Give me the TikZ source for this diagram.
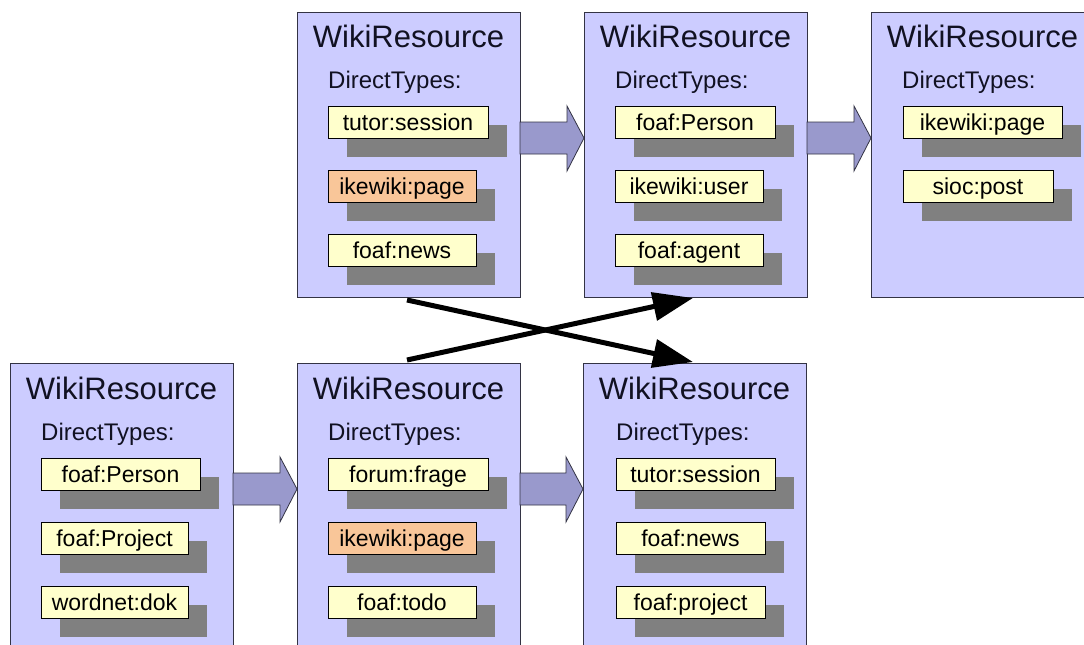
\documentclass[tikz,border=0pt]{standalone}
\usepackage{fontspec}
\setmainfont{Liberation Sans}
\usetikzlibrary{calc,arrows.meta,shadows}

\definecolor{boxfill}{HTML}{CCCCFF}
\definecolor{boxline}{HTML}{333344}
\definecolor{typefill}{HTML}{FFFFCC}
\definecolor{pagefill}{HTML}{F9C699}
\definecolor{shadowgray}{HTML}{808080}
\definecolor{flowfill}{HTML}{9999CC}
\definecolor{inktext}{HTML}{111122}

\tikzset{
  resource/.style={draw=boxline, line width=1pt, fill=boxfill, anchor=north west,
    minimum width=223pt, minimum height=#1, inner sep=0pt, outer sep=0pt},
  rtitle/.style={font=\fontsize{31}{31}\selectfont, text=inktext, inner sep=0pt, anchor=center},
  dtcaption/.style={font=\fontsize{24}{24}\selectfont, text=inktext, inner sep=0pt, anchor=west},
  typebox/.style={draw=black, line width=1pt, fill=typefill, anchor=north west,
    minimum height=32pt, minimum width=#1, inner sep=0pt, outer sep=0pt,
    text height=18pt, text depth=2pt,
    font=\fontsize{23}{23}\selectfont, text=black,
    general shadow={fill=shadowgray, shadow xshift=19pt, shadow yshift=-19pt}},
  pagebox/.style={typebox=#1, fill=pagefill},
  flow/.style={draw=boxline, line width=0.8pt, fill=flowfill, line join=miter},
  cross/.style={draw=black, line width=5pt, -{Triangle[length=40pt,width=28pt]}}
}

% broad block arrow from the right side of one resource to the left side of the next
\newcommand{\blockflow}[2]{%
  \draw[flow] ($(#1.north east)+(0,110)$) -- ($(#2.north west)+(-17,110)$)
    -- ($(#2.north west)+(-17,94)$) -- ($(#2.north west)+(0,126)$)
    -- ($(#2.north west)+(-17,159)$) -- ($(#2.north west)+(-17,142)$)
    -- ($(#1.north east)+(0,142)$) -- cycle;}

\begin{document}
\begin{tikzpicture}[x=1pt, y=-1pt]
  \useasboundingbox (0,0) rectangle (1084,645);
  \clip (0,0) rectangle (1084,645);
  \fill[white] (0,0) rectangle (1084,645);

  % ---------- upper row ----------
  \node[resource=285pt] (t1) at (297,12) {};
  \node[rtitle] (t1title) at ($(t1.north)+(0,24)$) {WikiResource};
  \node[dtcaption] (t1cap) at ($(t1.north west)+(31,70)$) {DirectTypes:};
  \node[typebox=160pt] (t1a) at ($(t1.north west)+(31,94)$) {tutor:session};
  \node[pagebox=148pt] (t1b) at ($(t1.north west)+(31,158)$) {ikewiki:page};
  \node[typebox=148pt] (t1c) at ($(t1.north west)+(31,222)$) {foaf:news};

  \node[resource=285pt] (t2) at (584,12) {};
  \node[rtitle] (t2title) at ($(t2.north)+(0,24)$) {WikiResource};
  \node[dtcaption] (t2cap) at ($(t2.north west)+(31,70)$) {DirectTypes:};
  \node[typebox=160pt] (t2a) at ($(t2.north west)+(31,94)$) {foaf:Person};
  \node[typebox=148pt] (t2b) at ($(t2.north west)+(31,158)$) {ikewiki:user};
  \node[typebox=148pt] (t2c) at ($(t2.north west)+(31,222)$) {foaf:agent};

  \node[resource=285pt] (t3) at (871,12) {};
  \node[rtitle] (t3title) at ($(t3.north)+(0,24)$) {WikiResource};
  \node[dtcaption] (t3cap) at ($(t3.north west)+(31,70)$) {DirectTypes:};
  \node[typebox=159pt] (t3a) at ($(t3.north west)+(32,94)$) {ikewiki:page};
  \node[typebox=150pt] (t3b) at ($(t3.north west)+(32,158)$) {sioc:post};

  % ---------- lower row ----------
  \node[resource=300pt] (b1) at (10,363) {};
  \node[rtitle] (b1title) at ($(b1.north)+(0,25)$) {WikiResource};
  \node[dtcaption] (b1cap) at ($(b1.north west)+(31,71)$) {DirectTypes:};
  \node[typebox=159pt] (b1a) at ($(b1.north west)+(31,95)$) {foaf:Person};
  \node[typebox=147pt] (b1b) at ($(b1.north west)+(31,159)$) {foaf:Project};
  \node[typebox=147pt] (b1c) at ($(b1.north west)+(31,223)$) {wordnet:dok};

  \node[resource=300pt] (b2) at (297,363) {};
  \node[rtitle] (b2title) at ($(b2.north)+(0,25)$) {WikiResource};
  \node[dtcaption] (b2cap) at ($(b2.north west)+(31,71)$) {DirectTypes:};
  \node[typebox=160pt] (b2a) at ($(b2.north west)+(31,95)$) {forum:frage};
  \node[pagebox=148pt] (b2b) at ($(b2.north west)+(31,159)$) {ikewiki:page};
  \node[typebox=148pt] (b2c) at ($(b2.north west)+(31,223)$) {foaf:todo};

  \node[resource=300pt] (b3) at (583,363) {};
  \node[rtitle] (b3title) at ($(b3.north)+(0,25)$) {WikiResource};
  \node[dtcaption] (b3cap) at ($(b3.north west)+(33,71)$) {DirectTypes:};
  \node[typebox=159pt] (b3a) at ($(b3.north west)+(33,95)$) {tutor:session};
  \node[typebox=149pt] (b3b) at ($(b3.north west)+(33,159)$) {foaf:news};
  \node[typebox=149pt] (b3c) at ($(b3.north west)+(33,223)$) {foaf:project};

  % ---------- block arrows along each row ----------
  \blockflow{t1}{t2}
  \blockflow{t2}{t3}
  \blockflow{b1}{b2}
  \blockflow{b2}{b3}

  % ---------- crossing arrows between the rows ----------
  \draw[cross] ($(t1.south west)+(110,3)$) -- ($(b3.north west)+(110,-1)$);
  \draw[cross] ($(b2.north west)+(110,-3)$) -- ($(t2.south west)+(109,1)$);
\end{tikzpicture}
\end{document}
